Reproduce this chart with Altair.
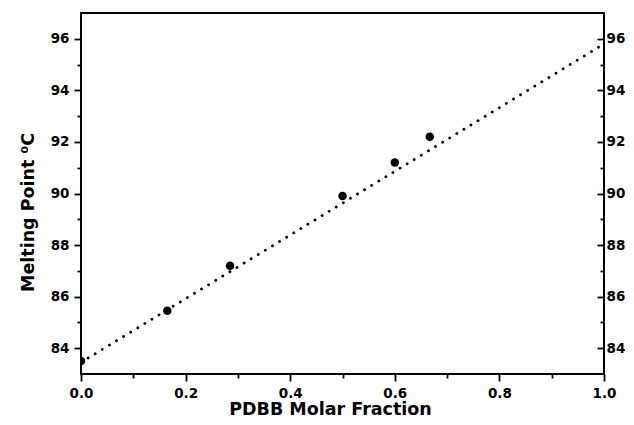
import altair as alt
import pandas as pd

frac = [0.0, 0.165, 0.285, 0.50, 0.60, 0.667]
mp = [83.5, 85.45, 87.2, 89.9, 91.2, 92.2]

# Dotted linear fit drawn in the figure (end points)
fit_x = [0.0, 1.0]
fit_y = [83.45, 95.8]

x_major = [0.0, 0.2, 0.4, 0.6, 0.8, 1.0]
x_minor = [0.1, 0.3, 0.5, 0.7, 0.9]
y_major = [84, 86, 88, 90, 92, 94, 96]
y_minor = [85, 87, 89, 91, 93, 95]

pts = pd.DataFrame({"frac": frac, "mp": mp})
fit = pd.DataFrame({"fx": fit_x, "fy": fit_y})

FONT = "DejaVu Sans"
xs = alt.Scale(domain=[0, 1], nice=False, zero=False)
ys = alt.Scale(domain=[83, 97], nice=False, zero=False)

common = dict(domain=False, tickColor="black", tickWidth=1.8, grid=False,
              labelFont=FONT, labelFontWeight="bold", labelFontSize=13.5, labelColor="black",
              titleFont=FONT, titleFontWeight="bold", titleFontSize=17.5, titleColor="black")

ax_bottom = alt.Axis(orient="bottom", values=x_major, format=".1f", tickSize=7, labelPadding=5,
                     title="PDBB Molar Fraction", titlePadding=1, titleX=249, labelFlush=False, **common)
ax_left = alt.Axis(orient="left", values=y_major, format="d", tickSize=7, labelPadding=5,
                   title="Melting Point  \u2070C", titlePadding=13, titleY=199, **common)

ax_bottom_minor = alt.Axis(orient="bottom", values=x_minor, tickSize=4, labels=False, title=None, **common)
ax_left_minor = alt.Axis(orient="left", values=y_minor, tickSize=4, labels=False, title=None, **common)

ax_right = alt.Axis(orient="right", values=y_major, format="d", tickSize=7, offset=-7,
                    labelPadding=2, title=None, **common)
ax_right_minor = alt.Axis(orient="right", values=y_minor, tickSize=4, offset=-4,
                          labels=False, title=None, **common)

points = alt.Chart(pts).mark_circle(size=72, color="black", opacity=1, clip=True).encode(
    x=alt.X("frac:Q", scale=xs, axis=ax_bottom),
    y=alt.Y("mp:Q", scale=ys, axis=ax_left),
)

line = alt.Chart(fit).mark_line(color="black", strokeWidth=2.8, strokeDash=[0.1, 8.2],
                                strokeCap="round", clip=True).encode(
    x=alt.X("fx:Q", scale=xs, axis=ax_bottom_minor),
    y=alt.Y("fy:Q", scale=ys, axis=ax_left_minor),
)

right1 = alt.Chart(pts).mark_point(opacity=0).encode(
    x=alt.X("frac:Q", scale=xs, axis=None),
    y=alt.Y("mp:Q", scale=ys, axis=ax_right),
)
right2 = alt.Chart(pts).mark_point(opacity=0).encode(
    x=alt.X("frac:Q", scale=xs, axis=None),
    y=alt.Y("mp:Q", scale=ys, axis=ax_right_minor),
)

chart = alt.layer(line, points, right1, right2).resolve_scale(
    x="independent", y="independent"
).resolve_axis(x="independent", y="independent").properties(
    width=523, height=361,
    background="white",
    autosize=alt.AutoSizeParams(type="none"),
    padding={"left": 73, "top": 5, "right": 21, "bottom": 47},
).configure_view(stroke="black", strokeWidth=2)

chart.save("out.html", embed_options={"renderer": "svg", "actions": False})
